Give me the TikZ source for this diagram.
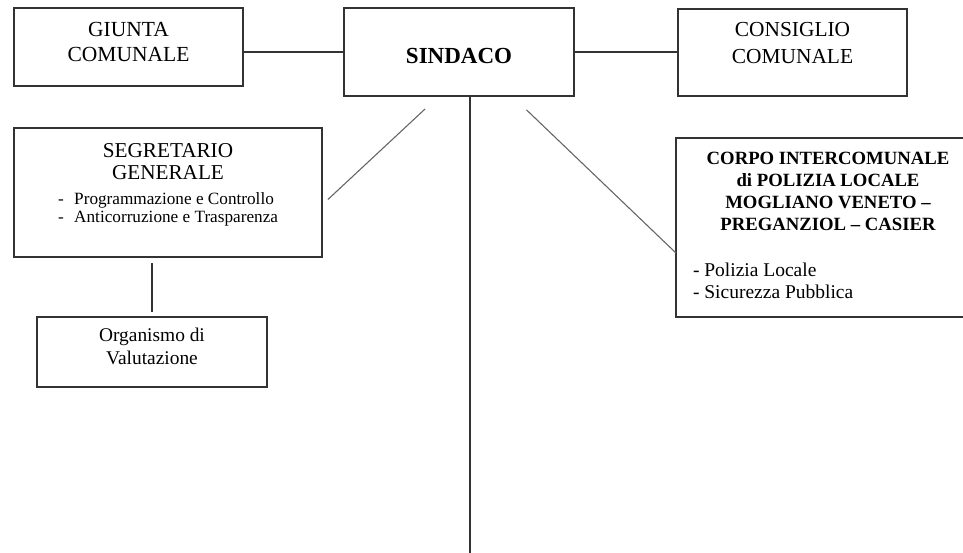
\documentclass[tikz,border=0pt]{standalone}
\usepackage{fontspec}
\setmainfont{Liberation Serif}
\usepackage{tikz}
\newcommand{\cella}[3]{\parbox[c][#2][t]{#1}{\centering #3}}

\begin{document}
\begin{tikzpicture}[x=1pt, y=1pt,
  box/.style={draw=black!80, line width=1.4pt, inner sep=0pt, outer sep=0pt, anchor=north west},
  link/.style={draw=black!80, line width=1.4pt},
  diag/.style={draw=black!60, line width=1.1pt}]
  \useasboundingbox (0,0) rectangle (963,-553);

  \node[box] (giunta) at (14,-8)
    {\cella{229pt}{78pt}{\fontsize{21.5}{25.4}\selectfont\rule{0pt}{28.6pt}GIUNTA\\COMUNALE}};
  \node[box] (sindaco) at (344,-8)
    {\cella{230pt}{88pt}{\fontsize{23}{27}\selectfont\bfseries\rule{0pt}{55.3pt}SINDACO}};
  \node[box] (consiglio) at (678,-9)
    {\cella{229pt}{87pt}{\fontsize{21.4}{26.6}\selectfont\rule{0pt}{27.7pt}CONSIGLIO\\COMUNALE}};
  \node[box] (segretario) at (14,-128)
    {\cella{308pt}{129pt}{\fontsize{21.2}{22}\selectfont\rule{0pt}{29.7pt}SEGRETARIO\\GENERALE\\[3pt]
      {\fontsize{17.2}{18}\selectfont\begin{tabular}[t]{@{}l@{}}-\hspace{10.5pt}Programmazione e Controllo\\
      -\hspace{10.5pt}Anticorruzione e Trasparenza\end{tabular}}}};
  \node[box] (organismo) at (37,-317)
    {\cella{230pt}{70pt}{\fontsize{19.4}{23}\selectfont\rule{0pt}{24.7pt}Organismo di\\Valutazione}};
  \node[box] (corpo) at (676,-138)
    {\cella{304pt}{179pt}{\fontsize{18.7}{22}\selectfont\bfseries\rule{0pt}{26.2pt}CORPO INTERCOMUNALE\\
      di POLIZIA LOCALE\\MOGLIANO VENETO –\\PREGANZIOL – CASIER\par
      \vspace{23.5pt}\raggedright\leftskip=17pt \mdseries\fontsize{19.5}{22.5}\selectfont
      - Polizia Locale\\- Sicurezza Pubblica}};
  \coordinate (fondo) at (470,-556);

  \draw[link] (giunta.east |- sindaco) -- (sindaco);
  \draw[link] (sindaco) -- (consiglio.west |- sindaco);
  \draw[link] (sindaco.south -| fondo) -- (fondo);
  \draw[link, shorten <=6pt, shorten >=5pt] (organismo.north |- segretario.south) -- (organismo.north);
  \draw[diag, shorten <=19pt, shorten >=8pt] ([xshift=95pt]sindaco.south west) -- ([yshift=-77pt]segretario.north east);
  \draw[diag, shorten <=20pt] ([xshift=168pt]sindaco.south west) -- ([yshift=-115pt]corpo.north west);
\end{tikzpicture}
\end{document}
